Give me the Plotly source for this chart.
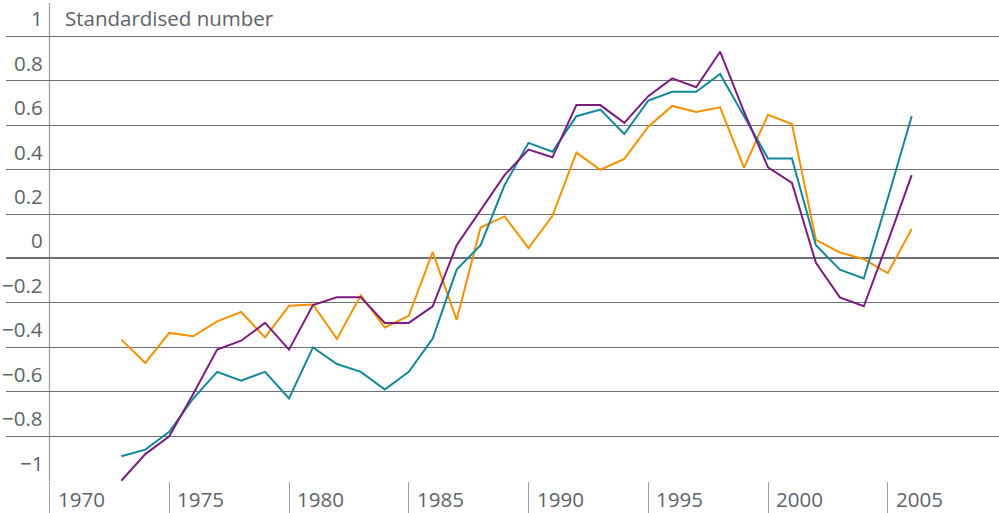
import plotly.graph_objects as go

# Annual series, 1973-2006 (standardised values)
years = list(range(1973, 2007))

teal_values = [
    -0.89, -0.86, -0.78, -0.63, -0.51, -0.55, -0.51, -0.63, -0.40, -0.475,
    -0.51, -0.59, -0.51, -0.36, -0.05, 0.06, 0.33, 0.52, 0.48, 0.64,
    0.67, 0.56, 0.71, 0.75, 0.75, 0.83, 0.64, 0.45, 0.45, 0.06,
    -0.05, -0.09, 0.27, 0.64,
]
purple_values = [
    -1.00, -0.88, -0.80, -0.61, -0.41, -0.37, -0.29, -0.41, -0.21, -0.175,
    -0.175, -0.29, -0.29, -0.215, 0.06, 0.22, 0.375, 0.49, 0.455, 0.69,
    0.69, 0.61, 0.73, 0.81, 0.77, 0.93, 0.66, 0.41, 0.34, -0.02,
    -0.175, -0.215, 0.075, 0.375,
]
orange_values = [
    -0.365, -0.47, -0.335, -0.35, -0.283, -0.241, -0.355, -0.213, -0.207, -0.362,
    -0.166, -0.31, -0.258, 0.029, -0.276, 0.139, 0.189, 0.047, 0.192, 0.476,
    0.399, 0.448, 0.593, 0.686, 0.659, 0.68, 0.409, 0.646, 0.605, 0.084,
    0.027, -0.003, -0.066, 0.133,
]

tick_years = [1970, 1975, 1980, 1985, 1990, 1995, 2000, 2005]
y_ticks = [1, 0.8, 0.6, 0.4, 0.2, 0, -0.2, -0.4, -0.6, -0.8, -1]
y_tick_text = ["1", "0.8", "0.6", "0.4", "0.2", "0", "−0.2", "−0.4", "−0.6", "−0.8", "−1"]
axis_title = "Standardised number"

TEAL = "#13879a"
PURPLE = "#7b1d80"
ORANGE = "#f39200"
GRID = "#6c7277"
TICK = "#9a9fa3"
TEXT = "#5e6469"
FONT = "Open Sans"
FONT_SIZE = 20.5

W, H = 999, 513
M_L, M_R, M_T, M_B = 6, 0, 3, 32

# horizontal scale: pixels per year and the pixel column of 1970
PX_PER_YEAR = 23.95
PX_1970 = 49.5
x_range = [1970 - (PX_1970 - M_L) / PX_PER_YEAR,
           1970 + (W - M_R - PX_1970) / PX_PER_YEAR]

# vertical scale: 0 sits at pixel row 258.7, one unit is 222.5 px
PX_ZERO = 258.7
PX_PER_UNIT = 222.5
y_range = [(PX_ZERO - (H - M_B)) / PX_PER_UNIT - 0.002,
           (PX_ZERO - M_T) / PX_PER_UNIT]

fig = go.Figure()
for vals, col in [(orange_values, ORANGE), (teal_values, TEAL), (purple_values, PURPLE)]:
    fig.add_trace(go.Scatter(x=years, y=vals, mode="lines",
                             line=dict(color=col, width=2), hoverinfo="skip",
                             showlegend=False))

label_font = dict(family=FONT, size=FONT_SIZE, color=TEXT)
annotations = []
for v, t in zip(y_ticks, y_tick_text):
    annotations.append(dict(x=tick_years[0], y=v, xref="x", yref="y", text=t,
                            showarrow=False, xanchor="right", yanchor="bottom",
                            xshift=-5, yshift=2, font=label_font))
annotations.append(dict(x=tick_years[0], y=1, xref="x", yref="y", text=axis_title,
                        showarrow=False, xanchor="left", yanchor="bottom",
                        xshift=13, yshift=2, font=label_font))
for yr in tick_years:
    annotations.append(dict(x=yr, y=0, xref="x", yref="paper", text=str(yr),
                            showarrow=False, xanchor="left", yanchor="top",
                            xshift=7, yshift=-3, borderpad=0, font=label_font))

fig.update_layout(
    width=W, height=H,
    margin=dict(l=M_L, r=M_R, t=M_T, b=M_B, pad=0),
    paper_bgcolor="white", plot_bgcolor="white",
    annotations=annotations,
    shapes=[dict(type="line", xref="x", yref="paper", x0=tick_years[0], x1=tick_years[0],
                 y0=0, y1=1, line=dict(color=TICK, width=1.3), layer="below")],
    xaxis=dict(range=x_range, showgrid=False, zeroline=False, showline=False,
               tickmode="array", tickvals=tick_years, ticks="outside", ticklen=32,
               tickcolor=TICK, tickwidth=1.3, showticklabels=False, fixedrange=True),
    yaxis=dict(range=y_range, tickmode="array", tickvals=y_ticks, showticklabels=False,
               showgrid=True, gridcolor=GRID, gridwidth=1,
               zeroline=True, zerolinecolor=GRID, zerolinewidth=1.8,
               showline=False, ticks="", fixedrange=True),
)

fig.write_html("out.html")
